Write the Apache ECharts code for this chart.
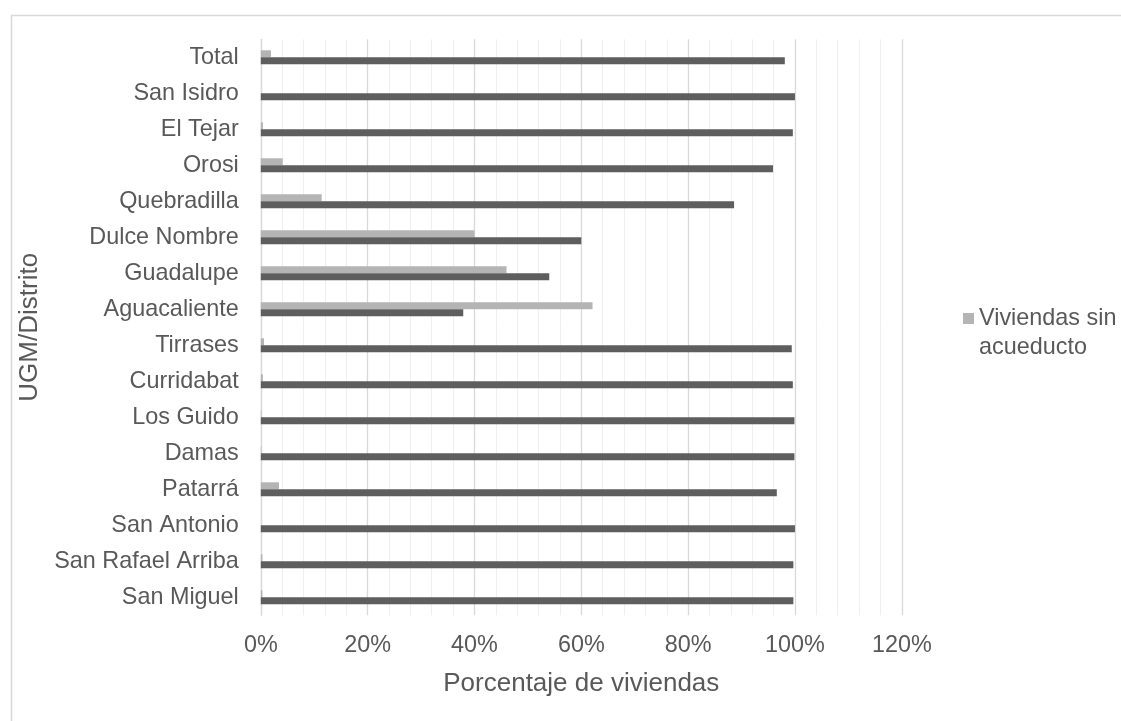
<!DOCTYPE html>
<html>
<head>
<meta charset="utf-8">
<script src="https://cdn.jsdelivr.net/npm/echarts@6/dist/echarts.min.js"></script>
<style>
html,body{margin:0;padding:0;background:#fff;}
#chart{width:1121px;height:721px;}
</style>
</head>
<body>
<div id="chart"></div>
<script>
// Categories listed bottom to top (ECharts category y-axis starts at the bottom)
const categories = ['San Miguel','San Rafael Arriba','San Antonio','Patarrá','Damas','Los Guido','Curridabat','Tirrases','Aguacaliente','Guadalupe','Dulce Nombre','Quebradilla','Orosi','El Tejar','San Isidro','Total'];
const sinAcueducto = [0.3,0.3,0,3.4,0.1,0.1,0.4,0.6,62.1,46.0,40.0,11.4,4.1,0.4,0,1.9];
const conAcueducto = [99.7,99.7,100,96.6,99.9,99.9,99.6,99.4,37.9,54.0,60.0,88.6,95.9,99.6,100,98.1];
const xTicks = [0,20,40,60,80,100,120];

const FONT = '"Liberation Sans", Arial, sans-serif';
const TXT = '#595959';

const chart = echarts.init(document.getElementById('chart'), null, {renderer:'canvas'});
chart.setOption({
  backgroundColor:'#ffffff',
  animation:false,
  textStyle:{fontFamily:FONT},
  graphic:[{
    type:'rect', left:9, top:13, silent:true, z:-10,
    shape:{x:0,y:0,width:1300,height:900},
    style:{fill:'none',stroke:'#d9d9d9',lineWidth:1.5}
  }],
  grid:{left:260.8,right:219.2,top:39.3,bottom:105.7,containLabel:false},
  legend:{
    data:['Viviendas sin acueducto'],
    left:963, top:304, padding:0,
    itemWidth:11, itemHeight:40,
    icon:'path://M0,0H11V11H0Z M5,39.99H5.01V40H5Z',
    formatter:function(n){return 'Viviendas sin\nacueducto';},
    textStyle:{fontSize:23.4,color:TXT,fontFamily:FONT,lineHeight:29}
  },
  xAxis:{
    type:'value', min:xTicks[0], max:xTicks[xTicks.length-1], interval:20,
    name:'Porcentaje de viviendas', nameLocation:'middle', nameGap:56,
    nameTextStyle:{fontSize:26,color:TXT,fontFamily:FONT},
    axisLine:{show:false}, axisTick:{show:false},
    axisLabel:{fontSize:23.4,color:TXT,fontFamily:FONT,margin:19,formatter:'{value}%'},
    splitLine:{show:true,lineStyle:{color:'#d9d9d9',width:1.3}},
    minorTick:{show:false,splitNumber:5},
    minorSplitLine:{show:true,lineStyle:{color:'#efefef',width:1}}
  },
  yAxis:{
    type:'category', data:categories,
    name:'UGM/Distrito', nameLocation:'middle', nameGap:216, nameRotate:90,
    nameTextStyle:{fontSize:26,color:TXT,fontFamily:FONT},
    axisLine:{show:true,lineStyle:{color:'#d9d9d9',width:1.3}},
    axisTick:{show:false},
    axisLabel:{fontSize:23.4,color:TXT,fontFamily:FONT,margin:22},
    splitLine:{show:false}
  },
  series:[
    {name:'Viviendas sin acueducto',type:'bar',data:sinAcueducto,barWidth:7,barGap:'0%',
     itemStyle:{color:'#b4b4b4'}},
    {name:'Viviendas con acueducto',type:'bar',data:conAcueducto,barWidth:7,barGap:'0%',
     itemStyle:{color:'#5e5e5e'}}
  ]
});
</script>
</body>
</html>
